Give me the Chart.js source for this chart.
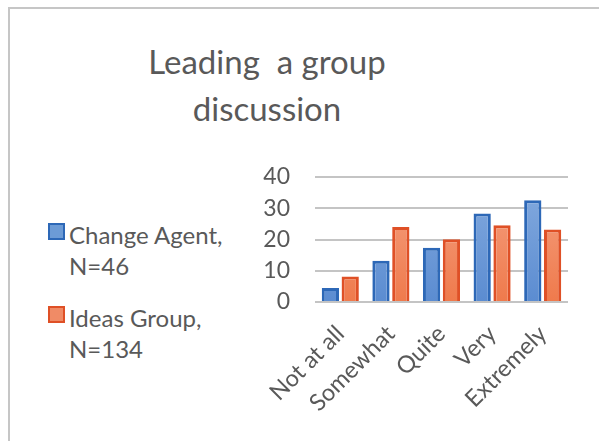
<!DOCTYPE html>
<html>
<head>
<meta charset="utf-8">
<script src="https://cdn.jsdelivr.net/npm/chart.js@4"></script>
<style>
  html, body { margin: 0; padding: 0; background: #fff; }
  body { width: 599px; height: 441px; position: relative; overflow: hidden; font-family: Lato, "Open Sans", sans-serif; color: #595959; }
  #frame { position: absolute; left: 8px; top: 7px; width: 600px; height: 440px; border-left: 2px solid #c6c6c6; border-top: 2px solid #c6c6c6; }
  #title { position: absolute; left: 67px; width: 400px; top: 38px; text-align: center; font-size: 33px; line-height: 47px; white-space: pre; }
  #legend { position: absolute; left: 48px; top: 219px; font-size: 24px; line-height: 31px; }
  .item { position: relative; padding-left: 21px; margin-bottom: 21px; }
  .box { position: absolute; left: 0; top: 4px; width: 13px; height: 13px; border: 2px solid; }
  #c { position: absolute; left: 0; top: 0; }
</style>
</head>
<body>
<div id="frame"></div>
<div id="title"></div>
<div id="legend"></div>
<canvas id="c" width="599" height="441"></canvas>
<script>
const titleLines = ["Leading  a group", "discussion"];
const categories = ["Not at all", "Somewhat", "Quite", "Very", "Extremely"];
const seriesNames = [["Change Agent,", "N=46"], ["Ideas Group,", "N=134"]];
const changeAgent = [4.5, 13.2, 17.4, 28.3, 32.6];
const ideasGroup = [8.2, 24.0, 20.1, 24.6, 23.2];
const fills = ["#6c9bd6", "#f08b66"];
const fillTop = ["#86acdf", "#f5a283"];
const fillBottom = ["#5b8cd1", "#ef7a4c"];
const borders = ["#2d68b7", "#df5026"];

document.getElementById("title").textContent = titleLines.join("\n");

const legend = document.getElementById("legend");
seriesNames.forEach((lines, i) => {
  const item = document.createElement("div");
  item.className = "item";
  const box = document.createElement("span");
  box.className = "box";
  box.style.background = fills[i];
  box.style.borderColor = borders[i];
  item.appendChild(box);
  lines.forEach((t) => {
    const d = document.createElement("div");
    d.textContent = t;
    item.appendChild(d);
  });
  legend.appendChild(item);
});

// vertical gradient like the office style bars
function barFill(i) {
  return (context) => {
    const area = context.chart.chartArea;
    if (!area) return fills[i];
    const g = context.chart.ctx.createLinearGradient(0, area.top, 0, area.bottom);
    g.addColorStop(0, fillTop[i]);
    g.addColorStop(1, fillBottom[i]);
    return g;
  };
}

const ctx = document.getElementById("c").getContext("2d");
const chart = new Chart(ctx, {
  type: "bar",
  data: {
    labels: categories,
    datasets: [
      {
        label: seriesNames[0].join(" "),
        data: changeAgent,
        backgroundColor: barFill(0),
        borderColor: borders[0],
        borderWidth: 3,
      },
      {
        label: seriesNames[1].join(" "),
        data: ideasGroup,
        backgroundColor: barFill(1),
        borderColor: borders[1],
        borderWidth: 3,
      },
    ],
  },
  options: {
    responsive: false,
    animation: false,
    layout: { padding: { left: 200, top: 177, right: 31, bottom: 0 } },
    plugins: { legend: { display: false }, title: { display: false }, tooltip: { enabled: false } },
    datasets: { bar: { categoryPercentage: 0.784, barPercentage: 0.87 } },
    scales: {
      x: {
        grid: { display: false },
        border: { display: false },
        ticks: {
          color: "#595959",
          font: { family: "Lato", size: 23.5 },
          maxRotation: 45,
          minRotation: 45,
          padding: 10,
        },
        afterFit: (s) => { s.height = 139; },
      },
      y: {
        min: 0,
        max: 40,
        ticks: { stepSize: 10, color: "#595959", font: { family: "Lato", size: 23 }, padding: 25 },
        grid: { color: "#c4c4c4", lineWidth: 2, drawTicks: false },
        border: { display: false },
        afterFit: (s) => { s.width = 115; },
      },
    },
  },
});
</script>
</body>
</html>
